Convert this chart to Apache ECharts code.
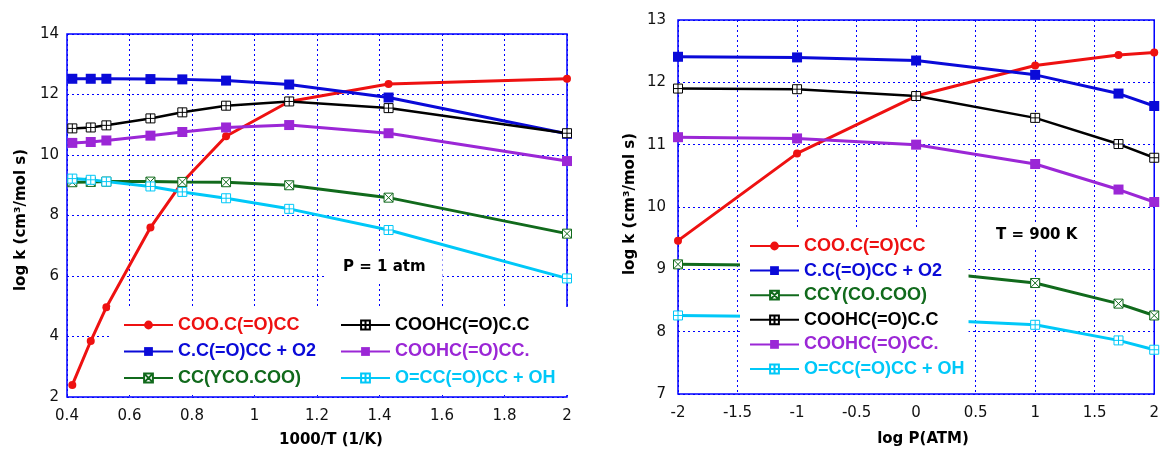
<!DOCTYPE html>
<html>
<head>
<meta charset="utf-8">
<script src="https://cdn.jsdelivr.net/npm/echarts@6/dist/echarts.min.js"></script>
<style>
  html, body { margin: 0; padding: 0; background: #fff; }
  #chart { width: 1162px; height: 450px; }
</style>
</head>
<body>
<div id="chart"></div>
<script>
// left panel: log k vs 1000/T, P = 1 atm
const invT = [0.417, 0.476, 0.526, 0.667, 0.769, 0.909, 1.111, 1.429, 2.0];
const tRed    = [2.4, 3.85, 4.97, 7.6, 9.1, 10.62, 11.77, 12.35, 12.52];
const tBlue   = [12.52, 12.52, 12.52, 12.51, 12.5, 12.46, 12.33, 11.9, 10.7];
const tGreen  = [9.1, 9.11, 9.12, 9.12, 9.11, 9.1, 9.0, 8.59, 7.4];
const tBlack  = [10.88, 10.91, 10.98, 11.21, 11.41, 11.63, 11.77, 11.55, 10.72];
const tPurple = [10.4, 10.43, 10.48, 10.64, 10.76, 10.91, 10.99, 10.72, 9.8];
const tCyan   = [9.22, 9.18, 9.12, 8.96, 8.78, 8.57, 8.22, 7.52, 5.92];

// right panel: log k vs log P, T = 900 K
const logP = [-2, -1, 0, 1, 1.7, 2];
const pRed    = [9.46, 10.86, 11.78, 12.27, 12.44, 12.48];
const pBlue   = [12.41, 12.4, 12.35, 12.12, 11.82, 11.62];
const pGreen  = [9.08, 9.06, 8.98, 8.78, 8.45, 8.26];
const pBlack  = [11.9, 11.89, 11.78, 11.43, 11.01, 10.79];
const pPurple = [11.12, 11.1, 11.0, 10.69, 10.28, 10.08];
const pCyan   = [8.26, 8.24, 8.2, 8.11, 7.86, 7.71];

const namesT = ['COO.C(=O)CC', 'C.C(=O)CC + O2', 'CC(YCO.COO)', 'COOHC(=O)C.C', 'COOHC(=O)CC.', 'O=CC(=O)CC + OH'];
const namesP = ['COO.C(=O)CC', 'C.C(=O)CC + O2', 'CCY(CO.COO)', 'COOHC(=O)C.C', 'COOHC(=O)CC.', 'O=CC(=O)CC + OH'];

const colors = ['#ee1111', '#0a0ad8', '#116a1c', '#000000', '#9b27d6', '#00c8f8'];
const BOXPLUS = 'path://M0,0H10V10H0Z M5,0V10 M0,5H10';
const BOXX = 'path://M0,0H10V10H0Z M0,0L10,10 M10,0L0,10';
const symbols = ['circle', 'rect', BOXX, BOXPLUS, 'rect', BOXPLUS];
const symSizes = [8, 10, 9, 9, 10, 9];
const hollow = [false, false, true, true, false, true];

const blue = '#0000ff';
const tickFont = { fontFamily: 'DejaVu Sans', fontSize: 15, color: '#111' };

function makeSeries(name, i, xs, ys, idx) {
    return {
        name: name,
        type: 'line',
        xAxisIndex: idx,
        yAxisIndex: idx,
        data: xs.map((x, k) => [x, ys[k]]),
        symbol: symbols[i],
        symbolSize: symSizes[i],
        showSymbol: true,
        lineStyle: { color: colors[i], width: i === 3 ? 2.5 : 3 },
        itemStyle: hollow[i]
            ? { color: '#fff', borderColor: colors[i], borderWidth: 1 }
            : { color: colors[i] },
        emphasis: { disabled: true },
        animation: false
    };
}

function legendData(names) {
    return names.map(n => {
        const i = namesT.indexOf(n) >= 0 ? namesT.indexOf(n) : namesP.indexOf(n);
        return { name: n, textStyle: { color: colors[i] } };
    });
}

// the legend's white background hides grid lines and series behind it
const legendBase = {
    orient: 'vertical',
    selectedMode: false,
    itemWidth: 49,
    itemHeight: 11,
    backgroundColor: '#fff',
    textStyle: { fontFamily: 'Liberation Sans', fontWeight: 'bold', fontSize: 18, lineHeight: 20 }
};

const tValues = [tRed, tBlue, tGreen, tBlack, tPurple, tCyan];
const pValues = [pRed, pBlue, pGreen, pBlack, pPurple, pCyan];

const series = [];
namesT.forEach((n, i) => series.push(makeSeries(n, i, invT, tValues[i], 0)));
namesP.forEach((n, i) => series.push(makeSeries(n, i, logP, pValues[i], 1)));

function valueAxis(idx, min, max, interval, fmt) {
    return {
        type: 'value',
        gridIndex: idx,
        min: min,
        max: max,
        interval: interval,
        axisLine: { show: false },
        axisTick: { show: false },
        splitLine: { show: true, lineStyle: { color: blue, width: 1, type: [2, 3] } },
        axisLabel: Object.assign({ margin: 12, formatter: fmt }, tickFont)
    };
}

const nameFont = { fontFamily: 'DejaVu Sans', fontWeight: 'bold', fontSize: 15, fill: '#000', align: 'center', verticalAlign: 'middle' };

const chart = echarts.init(document.getElementById('chart'));
chart.setOption({
    backgroundColor: '#fff',
    animation: false,
    grid: [
        { left: 67, top: 34, width: 500, height: 363, show: true, borderColor: blue, borderWidth: 1.5 },
        { left: 678, top: 20, width: 477, height: 374, show: true, borderColor: blue, borderWidth: 1.5 }
    ],
    xAxis: [
        valueAxis(0, 0.4, 2, 0.2, v => String(+v.toFixed(1))),
        valueAxis(1, -2, 2, 0.5, v => String(+v.toFixed(1)))
    ],
    yAxis: [
        Object.assign(valueAxis(0, 2, 14, 2, v => String(v)), { axisLabel: Object.assign({ margin: 8 }, tickFont) }),
        Object.assign(valueAxis(1, 7, 13, 1, v => String(v)), { axisLabel: Object.assign({ margin: 12 }, tickFont) })
    ],
    legend: [
        Object.assign({}, legendBase, { left: 110, top: 307, padding: [8, 40, 7, 13], itemGap: 6.5, data: legendData(namesT.slice(0, 3)) }),
        Object.assign({}, legendBase, { left: 335, top: 307, padding: [8, 60, 7, 5], itemGap: 6.5, data: legendData(namesT.slice(3)) }),
        Object.assign({}, legendBase, { left: 740, top: 228, padding: [8, 4, 13, 9], itemGap: 4.6, data: legendData(namesP) })
    ],
    title: [
        {
            text: 'P = 1 atm', left: 326, top: 254, padding: [6, 17], backgroundColor: '#fff',
            textStyle: { fontFamily: 'DejaVu Sans', fontWeight: 'bold', fontSize: 15, color: '#000' }
        },
        {
            text: 'T = 900 K', left: 986, top: 224, padding: [4, 10], backgroundColor: '#fff',
            textStyle: { fontFamily: 'DejaVu Sans', fontWeight: 'bold', fontSize: 15, color: '#000' }
        }
    ],
    graphic: [
        { type: 'text', x: 331, y: 440, style: Object.assign({ text: '1000/T (1/K)' }, nameFont) },
        { type: 'text', x: 923, y: 439, style: Object.assign({ text: 'log P(ATM)' }, nameFont) },
        { type: 'text', x: 21, y: 220, rotation: Math.PI / 2, style: Object.assign({ text: 'log k (cm³/mol s)' }, nameFont) },
        { type: 'text', x: 630, y: 204, rotation: Math.PI / 2, style: Object.assign({ text: 'log k (cm³/mol s)' }, nameFont) }
    ],
    series: series
});
</script>
</body>
</html>
